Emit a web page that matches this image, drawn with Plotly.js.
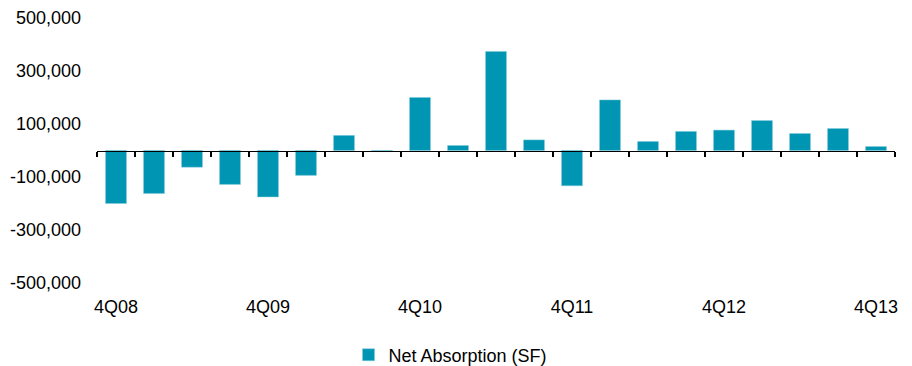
<!DOCTYPE html>
<html>
<head>
<meta charset="utf-8">
<script src="https://cdn.plot.ly/plotly-3.0.1.min.js"></script>
<style>html,body{margin:0;padding:0;background:#fff;}#chart{width:912px;height:366px;}</style>
</head>
<body>
<div id="chart"></div>
<script>
const quarters = ["4Q08","1Q09","2Q09","3Q09","4Q09","1Q10","2Q10","3Q10","4Q10","1Q11","2Q11","3Q11","4Q11","1Q12","2Q12","3Q12","4Q12","1Q13","2Q13","3Q13","4Q13"];
const netAbsorption = [-200000,-162000,-63000,-128000,-175000,-94000,57000,-4000,200000,19000,374000,40000,-133000,191000,34000,72000,77000,113000,64000,83000,15000];
const xTickLabels = ["4Q08","4Q09","4Q10","4Q11","4Q12","4Q13"];
const yTickVals = [-500000,-300000,-100000,100000,300000,500000];
const yTickText = ["-500,000","-300,000","-100,000","100,000","300,000","500,000"];
const seriesName = "Net Absorption (SF)";

const font = {family: "Liberation Sans, Arial, sans-serif", size: 18, color: "#000"};

const traces = [
  {type: "bar", x: quarters, y: netAbsorption, name: seriesName,
   marker: {color: "#0095B3", line: {color: "#7fcadb", width: 0.5}},
   xaxis: "x", yaxis: "y", hoverinfo: "x+y"},
  {type: "scatter", mode: "markers", x: quarters, y: quarters.map(() => 0),
   xaxis: "x2", yaxis: "y", marker: {opacity: 0}, showlegend: false, hoverinfo: "skip"}
];

const layout = {
  width: 912, height: 366,
  margin: {l: 97, r: 17, t: 18, b: 83},
  paper_bgcolor: "#fff", plot_bgcolor: "#fff",
  font: font,
  bargap: 0.45,
  showlegend: true,
  legend: {orientation: "h", xref: "container", yref: "container", x: 0.494, xanchor: "center",
           y: 0.03, yanchor: "middle", font: font},
  xaxis: {type: "category", categoryorder: "array", categoryarray: quarters,
          range: [-0.5, quarters.length - 0.5],
          tickmode: "array", tickvals: xTickLabels, ticktext: xTickLabels,
          ticks: "", showline: false, showgrid: false, zeroline: false,
          ticklabelstandoff: 11, tickfont: font},
  xaxis2: {type: "category", categoryorder: "array", categoryarray: quarters,
           overlaying: "x", anchor: "free", position: 0.5, side: "bottom",
           range: [-0.5, quarters.length - 0.5],
           tickmode: "array", tickvals: quarters, ticktext: quarters.map(() => ""),
           tickson: "boundaries", ticks: "outside", ticklen: 5, tickwidth: 1.3, tickcolor: "#000",
           showline: true, linecolor: "#000", linewidth: 1.5,
           showgrid: false, zeroline: false, showticklabels: false},
  yaxis: {range: [-500000, 500000], tickmode: "array", tickvals: yTickVals, ticktext: yTickText,
          showgrid: false, zeroline: false, showline: false, ticks: "", tickfont: font,
          ticklabelstandoff: 15}
};

Plotly.newPlot("chart", traces, layout, {displayModeBar: false, staticPlot: true});
</script>
</body>
</html>
